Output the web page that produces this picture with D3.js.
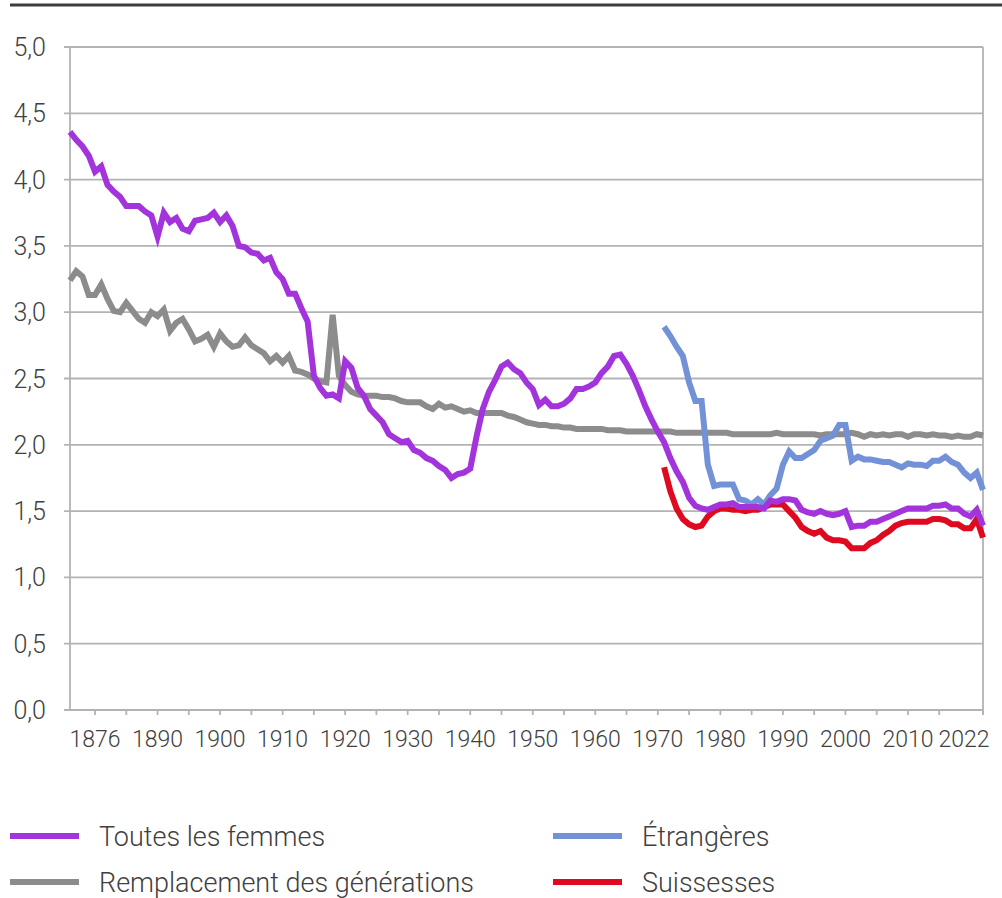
<!DOCTYPE html>
<html lang="fr">
<head>
<meta charset="utf-8">
<title>Indicateur conjoncturel de fécondité</title>
<script src="https://cdn.jsdelivr.net/npm/d3@7"></script>
<style>
	body { margin: 0; background: #fff; }
	svg text { font-family: Roboto, "Noto Sans", sans-serif; font-weight: 300; fill: #404040; }
	.grid line { stroke: #b3b3b3; stroke-width: 1.8; }
	.serie { fill: none; stroke-width: 6; }
</style>
</head>
<body>
<div id="vis"></div>
<script>
// années : 1876 -> 2022 ; étrangères / suissesses depuis 1971
var firstYear = 1876, lastYear = 2022, firstYearNat = 1971;

var toutesFemmes = [
	4.36, 4.30, 4.25, 4.18,
	4.06, 4.10, 3.96, 3.91, 3.87, 3.80, 3.80, 3.80, 3.76, 3.73,
	3.57, 3.75, 3.68, 3.71, 3.63, 3.61, 3.69, 3.70, 3.71, 3.75,
	3.68, 3.73, 3.65, 3.50, 3.49, 3.45, 3.44, 3.39, 3.41, 3.30,
	3.25, 3.14, 3.14, 3.03, 2.93, 2.52, 2.43, 2.37, 2.38, 2.35,
	2.63, 2.58, 2.43, 2.37, 2.27, 2.22, 2.17, 2.08, 2.05, 2.02,
	2.03, 1.96, 1.94, 1.90, 1.88, 1.84, 1.81, 1.75, 1.78, 1.79,
	1.82, 2.06, 2.27, 2.40, 2.49, 2.59, 2.62, 2.57, 2.54, 2.47,
	2.42, 2.30, 2.34, 2.29, 2.29, 2.31, 2.35, 2.42, 2.42, 2.44,
	2.47, 2.54, 2.59, 2.67, 2.68, 2.61, 2.52, 2.41, 2.29, 2.19,
	2.10, 2.02, 1.90, 1.80, 1.72, 1.60, 1.54, 1.52, 1.51, 1.53,
	1.55, 1.55, 1.56, 1.53, 1.53, 1.53, 1.53, 1.52, 1.58, 1.57,
	1.59, 1.59, 1.58, 1.51, 1.49, 1.48, 1.50, 1.48, 1.47, 1.48,
	1.50, 1.38, 1.39, 1.39, 1.42, 1.42, 1.44, 1.46, 1.48, 1.50,
	1.52, 1.52, 1.52, 1.52, 1.54, 1.54, 1.55, 1.52, 1.52, 1.48,
	1.46, 1.51, 1.39
];

var remplacement = [
	3.24, 3.31, 3.27, 3.13,
	3.13, 3.21, 3.10, 3.01, 3.00, 3.07, 3.01, 2.95, 2.92, 3.00,
	2.97, 3.02, 2.86, 2.92, 2.95, 2.87, 2.78, 2.80, 2.83, 2.74,
	2.84, 2.78, 2.74, 2.75, 2.81, 2.75, 2.72, 2.69, 2.63, 2.67,
	2.62, 2.67, 2.56, 2.55, 2.53, 2.50, 2.48, 2.47, 2.98, 2.52,
	2.45, 2.40, 2.38, 2.37, 2.37, 2.37, 2.36, 2.36, 2.35, 2.33,
	2.32, 2.32, 2.32, 2.29, 2.27, 2.31, 2.28, 2.29, 2.27, 2.25,
	2.26, 2.24, 2.24, 2.24, 2.24, 2.24, 2.22, 2.21, 2.19, 2.17,
	2.16, 2.15, 2.15, 2.14, 2.14, 2.13, 2.13, 2.12, 2.12, 2.12,
	2.12, 2.12, 2.11, 2.11, 2.11, 2.10, 2.10, 2.10, 2.10, 2.10,
	2.10, 2.10, 2.10, 2.09, 2.09, 2.09, 2.09, 2.09, 2.09, 2.09,
	2.09, 2.09, 2.08, 2.08, 2.08, 2.08, 2.08, 2.08, 2.08, 2.09,
	2.08, 2.08, 2.08, 2.08, 2.08, 2.08, 2.07, 2.08, 2.08, 2.08,
	2.08, 2.09, 2.08, 2.06, 2.08, 2.07, 2.08, 2.07, 2.08, 2.08,
	2.06, 2.08, 2.08, 2.07, 2.08, 2.07, 2.07, 2.06, 2.07, 2.06,
	2.06, 2.08, 2.07
];

var etrangeres = [
	2.89, 2.82, 2.74, 2.67, 2.47, 2.33, 2.33, 1.85, 1.69, 1.70,
	1.70, 1.70, 1.59, 1.58, 1.55, 1.59, 1.55, 1.62, 1.67, 1.85,
	1.95, 1.90, 1.90, 1.93, 1.96, 2.03, 2.05, 2.07, 2.15, 2.15,
	1.88, 1.91, 1.89, 1.89, 1.88, 1.87, 1.87, 1.85, 1.83, 1.86,
	1.85, 1.85, 1.84, 1.88, 1.88, 1.91, 1.87, 1.85, 1.79, 1.75,
	1.79, 1.66
];

var suissesses = [
	1.83, 1.65, 1.52, 1.44, 1.40, 1.38, 1.39, 1.46, 1.50, 1.52,
	1.52, 1.51, 1.51, 1.50, 1.51, 1.51, 1.53, 1.55, 1.55, 1.55,
	1.50, 1.45, 1.38, 1.35, 1.33, 1.35, 1.30, 1.28, 1.28, 1.27,
	1.22, 1.22, 1.22, 1.26, 1.28, 1.32, 1.35, 1.39, 1.41, 1.42,
	1.42, 1.42, 1.42, 1.44, 1.44, 1.43, 1.40, 1.40, 1.37, 1.37,
	1.44, 1.30
];

var yTicks = [0, 0.5, 1, 1.5, 2, 2.5, 3, 3.5, 4, 4.5, 5];
var xLabelYears = [1880, 1890, 1900, 1910, 1920, 1930, 1940, 1950, 1960, 1970, 1980, 1990, 2000, 2010];
var xLabelTexts = ["1876", "1890", "1900", "1910", "1920", "1930", "1940", "1950", "1960", "1970", "1980", "1990", "2000", "2010"];
var xMinorTicks = [1880, 1885, 1890, 1895, 1900, 1905, 1910, 1915, 1920, 1925, 1930, 1935, 1940, 1945, 1950, 1955, 1960, 1965, 1970, 1975, 1980, 1985, 1990, 1995, 2000, 2005, 2010, 2015, 2022];

var series = [
	{ name: "Remplacement des générations", values: remplacement, start: firstYear, color: "#8c8c8c" },
	{ name: "Suissesses", values: suissesses, start: firstYearNat, color: "#de0a1f" },
	{ name: "Étrangères", values: etrangeres, start: firstYearNat, color: "#7291d7" },
	{ name: "Toutes les femmes", values: toutesFemmes, start: firstYear, color: "#a334dc" }
];

var chart = function() {
	var svg, x, y;
	var W = 1002, H = 898;
	var left = 70, right = 983, top = 47, bottom = 710;

	return {
		init: function(container_id) {
			svg = d3.select(container_id).append("svg").attr("width", W).attr("height", H);
			x = d3.scaleLinear().domain([firstYear, lastYear]).range([left, right]);
			y = d3.scaleLinear().domain([0, 5]).range([bottom, top]);
		},
		draw: function() {
			// trait en haut
			svg.append("line").attr("x1", 10).attr("x2", W).attr("y1", 5).attr("y2", 5)
				.attr("stroke", "#3d3d3d").attr("stroke-width", 3);

			// grille horizontale + labels y
			var grid = svg.append("g").attr("class", "grid");
			grid.selectAll("line.h").data(yTicks).enter().append("line").attr("class", "h")
				.attr("x1", left - 6).attr("x2", right)
				.attr("y1", function(d) { return y(d); })
				.attr("y2", function(d) { return y(d); });
			grid.append("line").attr("x1", left).attr("x2", left).attr("y1", top).attr("y2", bottom);
			grid.append("line").attr("x1", right).attr("x2", right).attr("y1", top).attr("y2", bottom + 5);

			svg.append("g").selectAll("text").data(yTicks).enter().append("text")
				.attr("x", 46).attr("y", function(d) { return y(d); })
				.attr("dy", "0.36em").attr("text-anchor", "end")
				.style("font-size", "25px")
				.text(function(d) { return d3.format(".1f")(d).replace(".", ","); });

			// axe x
			var xa = svg.append("g").attr("class", "grid");
			xa.selectAll("line").data(xMinorTicks).enter().append("line")
				.attr("x1", function(d) { return x(d); }).attr("x2", function(d) { return x(d); })
				.attr("y1", bottom).attr("y2", bottom + 5);

			svg.append("g").selectAll("text").data(xLabelYears).enter().append("text")
				.attr("x", function(d) { return x(d); }).attr("y", 747)
				.attr("text-anchor", "middle").style("font-size", "23px")
				.text(function(d, i) { return xLabelTexts[i]; });
			svg.append("text").attr("x", x(lastYear) - 19).attr("y", 747)
				.attr("text-anchor", "middle").style("font-size", "23px").text(String(lastYear));

			// courbes
			var line = d3.line()
				.x(function(d) { return x(d.year); })
				.y(function(d) { return y(d.v); });
			series.forEach(function(s) {
				var pts = s.values.map(function(v, i) { return { year: s.start + i, v: v }; });
				svg.append("path").datum(pts).attr("class", "serie")
					.attr("stroke", s.color).attr("d", line);
			});

			// légende
			var leg = [
				{ s: series[3], lx: 10, ly: 836 },
				{ s: series[0], lx: 10, ly: 882 },
				{ s: series[2], lx: 553, ly: 836 },
				{ s: series[1], lx: 553, ly: 882 }
			];
			var lg = svg.append("g").selectAll("g").data(leg).enter().append("g")
				.attr("transform", function(d) { return "translate(" + d.lx + "," + d.ly + ")"; });
			lg.append("line").attr("x1", 0).attr("x2", 69).attr("y1", 0).attr("y2", 0)
				.attr("stroke", function(d) { return d.s.color; }).attr("stroke-width", 6);
			lg.append("text").attr("x", 89).attr("dy", "0.36em").style("font-size", "27px")
				.text(function(d) { return d.s.name; });
		}
	};
}();

chart.init("#vis");
chart.draw();
</script>
</body>
</html>
